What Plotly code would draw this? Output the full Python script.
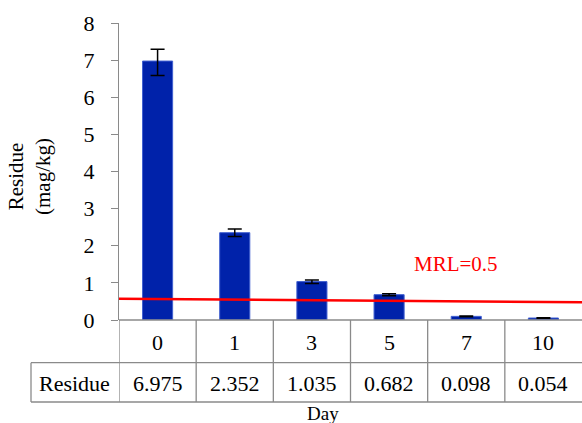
import plotly.graph_objects as go

days = ["0", "1", "3", "5", "7", "10"]
residue = [6.975, 2.352, 1.035, 0.682, 0.098, 0.054]
residue_labels = ["6.975", "2.352", "1.035", "0.682", "0.098", "0.054"]
err_plus = [0.32, 0.10, 0.04, 0.025, 0.01, 0.005]
err_minus = [0.39, 0.10, 0.05, 0.03, 0.01, 0.005]
mrl_line = [0.57, 0.48]
mrl_label = "MRL=0.5"
y_ticks = [0, 1, 2, 3, 4, 5, 6, 7, 8]

W, H = 582, 423
FONT = "Liberation Serif"
GRID = "#8a8a8a"

def px_x(x):
    return x / W

def px_y(y):
    return 1 - y / H

fig = go.Figure()
fig.add_trace(go.Bar(
    x=days, y=residue,
    marker=dict(color="#0022AA", line=dict(color="#4060d0", width=1)),
    error_y=dict(type="data", symmetric=False, array=err_plus, arrayminus=err_minus,
                 color="black", thickness=1.5, width=7),
    showlegend=False, hoverinfo="skip",
))

fig.add_shape(type="line", xref="x domain", yref="y", x0=0, x1=1,
              y0=mrl_line[0], y1=mrl_line[1], line=dict(color="#ff0000", width=2.5))

def label(x, y, text, size=22, color="black", xref="paper", angle=0, family=FONT):
    fig.add_annotation(x=x, y=y, xref=xref, yref="paper", text=text, showarrow=False,
                       xanchor="center", yanchor="middle", textangle=angle,
                       font=dict(family=family, size=size, color=color))

label(px_x(456), px_y(264), mrl_label, size=21, color="#ff0000")

row0, row1, row2 = 320, 362.7, 402
left_lab = 31
axis_x = 119
shapes = []
shapes.append(dict(type="line", xref="paper", yref="paper", x0=px_x(axis_x), x1=1,
                   y0=px_y(row0), y1=px_y(row0)))
for yy in (row1, row2):
    shapes.append(dict(type="line", xref="paper", yref="paper", x0=px_x(left_lab), x1=1,
                       y0=px_y(yy), y1=px_y(yy)))
shapes.append(dict(type="line", xref="paper", yref="paper", x0=px_x(left_lab), x1=px_x(left_lab),
                   y0=px_y(row1), y1=px_y(row2)))
for i in range(len(days)):
    shapes.append(dict(type="line", xref="x", yref="paper", x0=i - 0.5, x1=i - 0.5,
                       y0=px_y(row0), y1=px_y(row2)))
for s in shapes:
    s["line"] = dict(color=GRID, width=1.3)
    fig.add_shape(**s)

for i, d in enumerate(days):
    label(i, px_y((row0 + row1) / 2 + 1), d, xref="x")
    label(i, px_y((row1 + row2) / 2 + 1), residue_labels[i], xref="x")
label(px_x((left_lab + axis_x) / 2), px_y((row1 + row2) / 2 + 1), "Residue")
label(px_x(323), px_y(413), "Day", size=19)
label(px_x(29), px_y(177), "Residue<br>(mag/kg)", size=21, angle=-90)

fig.update_layout(
    width=W, height=H,
    margin=dict(l=0, r=0, t=0, b=0, autoexpand=False),
    font=dict(family=FONT),
    plot_bgcolor="white", paper_bgcolor="white",
    bargap=0.61,
    xaxis=dict(domain=[px_x(axis_x), 1], range=[-0.5, 5.5], showticklabels=False,
               showgrid=False, zeroline=False, showline=False, ticks="",
               categoryorder="array", categoryarray=days, type="category",
               automargin=False),
    yaxis=dict(domain=[px_y(row0), px_y(23)], range=[0, 8], tickvals=y_ticks,
               showgrid=False, zeroline=False, showline=True, linecolor=GRID, linewidth=1.3,
               ticks="outside", ticklen=7, tickcolor=GRID, tickwidth=1.3,
               ticklabelstandoff=12, automargin=False,
               tickfont=dict(family=FONT, size=22, color="black")),
)

fig.write_html("out.html", config={"displayModeBar": False},
               post_script="document.body.style.margin='0';")
